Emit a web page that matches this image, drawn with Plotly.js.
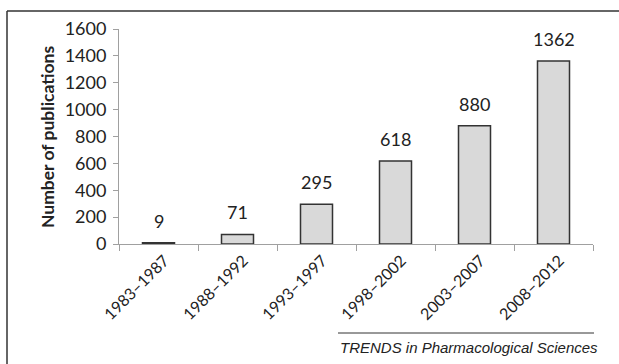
<!DOCTYPE html>
<html>
<head>
<meta charset="utf-8">
<script src="https://cdn.plot.ly/plotly-3.0.1.min.js"></script>
<style>html,body{margin:0;padding:0;background:#fff;}</style>
</head>
<body>
<div id="chart" style="width:619px;height:364px;"></div>
<script>
var periods = ["1983\u20131987", "1988\u20131992", "1993\u20131997", "1998\u20132002", "2003\u20132007", "2008\u20132012"];
var publications = [9, 71, 295, 618, 880, 1362];
var yTicks = [0, 200, 400, 600, 800, 1000, 1200, 1400, 1600];

var W = 619, H = 364, L = 119, R = 26, T = 29, B = 120;
var pw = W - L - R, ph = H - T - B;
function px(x) { return (x - L) / pw; }
function py(y) { return (H - B - y) / ph; }
var FONT = "Lato, 'Open Sans', sans-serif";

var trace = {
  type: "bar",
  x: periods,
  y: publications,
  marker: { color: "#d9d9d9", line: { color: "#333333", width: 1.5 } },
  hoverinfo: "none"
};

var annotations = periods.map(function (p, i) {
  return {
    x: p, y: publications[i], xref: "x", yref: "y",
    text: String(publications[i]), showarrow: false,
    yanchor: "bottom", yshift: 9,
    font: { family: FONT, size: 18, color: "#222" }
  };
});
annotations.push({
  x: px(338), y: py(347), xref: "paper", yref: "paper",
  xanchor: "left", yanchor: "middle", showarrow: false,
  text: "<i>TRENDS in Pharmacological Sciences</i>",
  font: { family: "Liberation Sans, Arial, sans-serif", size: 15, color: "#222" }
});
annotations.push({
  x: px(47), y: py(137), xref: "paper", yref: "paper",
  xanchor: "center", yanchor: "middle", showarrow: false, textangle: -90,
  text: "<b>Number of publications</b>",
  font: { family: FONT, size: 17.5, color: "#222" }
});

var layout = {
  width: W, height: H,
  margin: { l: L, r: R, t: T, b: B },
  paper_bgcolor: "#ffffff", plot_bgcolor: "#ffffff",
  showlegend: false,
  bargap: 0.595,
  font: { family: FONT, size: 18, color: "#222" },
  xaxis: {
    type: "category",
    tickangle: -45,
    showline: true, linecolor: "#a0a0a0", linewidth: 1,
    ticks: "outside", tickson: "boundaries", ticklen: 6, tickcolor: "#a0a0a0",
    showgrid: false, zeroline: false,
    ticklabelshift: 6,
    tickfont: { family: FONT, size: 16, color: "#222" }
  },
  yaxis: {
    range: [0, 1600],
    tickvals: yTicks,
    showline: true, linecolor: "#a0a0a0", linewidth: 1,
    ticks: "outside", ticklen: 5, tickcolor: "#a0a0a0",
    showgrid: false, zeroline: false,
    ticklabelstandoff: 3,
    tickfont: { family: FONT, size: 18, color: "#222" }
  },
  annotations: annotations,
  shapes: [
    { type: "line", xref: "paper", yref: "paper", x0: px(7), x1: px(619), y0: py(11), y1: py(11), line: { color: "#333", width: 1.5 } },
    { type: "line", xref: "paper", yref: "paper", x0: px(7), x1: px(7), y0: py(11), y1: py(364), line: { color: "#333", width: 1.5 } },
    { type: "line", xref: "paper", yref: "paper", x0: px(338), x1: px(594), y0: py(333), y1: py(333), line: { color: "#333", width: 1 } }
  ]
};

Plotly.newPlot("chart", [trace], layout, { displayModeBar: false, staticPlot: true });
</script>
</body>
</html>
